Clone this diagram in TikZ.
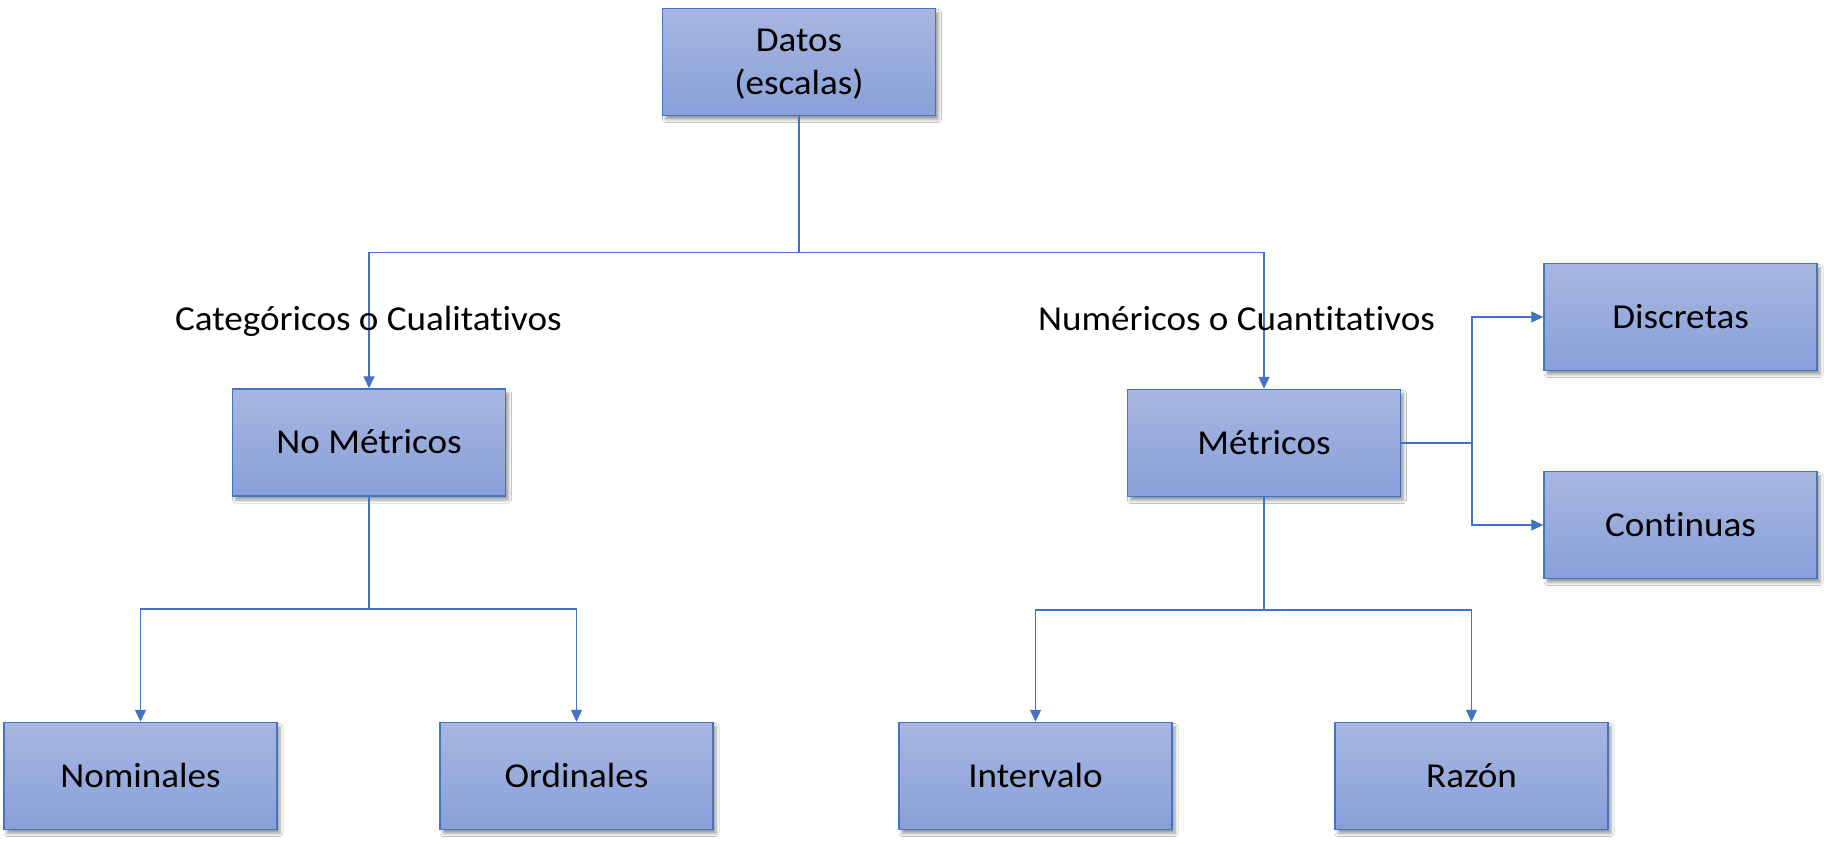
\documentclass[tikz,border=0pt]{standalone}
\usepackage{fontspec}
\setmainfont{Carlito}[FakeStretch=1.06,RawFeature={-liga;-clig;-calt}]
\usetikzlibrary{arrows.meta,shadows.blur}
\definecolor{bordc}{HTML}{4472C4}
\definecolor{topc}{RGB}{168,182,224}
\definecolor{botc}{RGB}{136,160,216}
\tikzset{
  box/.style={rectangle, draw=bordc, line width=1.5pt,
    top color=topc, bottom color=botc,
    minimum width=273pt, minimum height=107pt, inner sep=0pt,
    text height=22pt, text depth=0pt, align=center,
    font=\fontsize{35}{42.7}\selectfont,
    blur shadow={shadow xshift=3pt, shadow yshift=-4pt, shadow blur steps=6, shadow blur radius=3pt, shadow opacity=40}},
  conn/.style={draw=bordc, line width=1.3pt},
  arr/.style={conn, -{Triangle[length=12pt,width=11pt]}},
  lab/.style={font=\fontsize{35}{42.7}\selectfont, anchor=base, inner sep=0pt}
}
\begin{document}
\begin{tikzpicture}[x=1pt,y=-1pt]
\useasboundingbox[fill=white] (0,0) rectangle (1831,844);
% nodes
\node[box, text height=65pt, text depth=0pt] (datos) at (799,62) {Datos\\(escalas)};
\node[box] (nomet) at (369,442.5) {No Métricos};
\node[box] (met) at (1264,443) {Métricos};
\node[box] (disc) at (1680.5,317) {Discretas};
\node[box] (cont) at (1680.5,525) {Continuas};
\node[box] (nomin) at (140.5,776) {Nominales};
\node[box] (ordin) at (576.5,776) {Ordinales};
\node[box] (inter) at (1035.5,776) {Intervalo};
\node[box] (razon) at (1471.5,776) {Razón};
% junctions
\coordinate (jt) at (799,252.5);
\coordinate (jl) at (369,609);
\coordinate (jr) at (1264,610);
\coordinate (js) at (1472,443);
% connectors
\draw[conn] (datos.south) -- (jt);
\draw[arr] (jt) -| (nomet.north);
\draw[arr] (jt) -| (met.north);
\draw[conn] (nomet.south) -- (jl);
\draw[arr] (jl) -| (nomin.north);
\draw[arr] (jl) -| (ordin.north);
\draw[conn] (met.south) -- (jr);
\draw[arr] (jr) -| (inter.north);
\draw[arr] (jr) -| (razon.north);
\draw[conn] (met.east) -- (js);
\draw[arr] (js) |- (disc.west);
\draw[arr] (js) |- (cont.west);
% labels
\node[lab] (lcat) at (368.5,330) {Categóricos o Cualitativos};
\node[lab] (lnum) at (1236.5,330) {Numéricos o Cuantitativos};
\end{tikzpicture}
\end{document}
